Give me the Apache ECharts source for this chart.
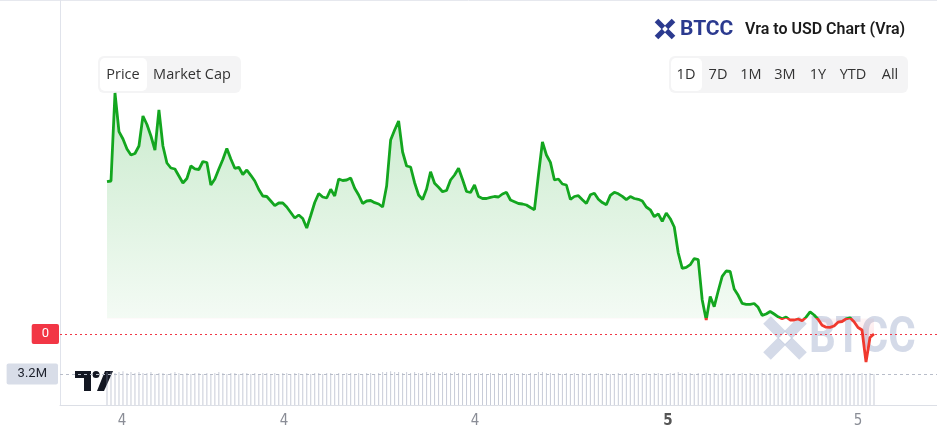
<!DOCTYPE html>
<html><head><meta charset="utf-8">
<script src="https://cdn.jsdelivr.net/npm/echarts@6/dist/echarts.min.js"></script>
<style>html,body{margin:0;padding:0;background:#fff}#c{width:937px;height:439px}</style>
</head><body><div id="c"></div>
<script>
// price in units of 1e-5 USD, one point per 5-minute step
const price = [
188.3,189,277,238.3,231,221,215,216.5,224,254,
245.5,234,220,260,224,207,202,201,194,187,
191.5,204,201.2,200.5,208.5,207.5,185,191,201,210.5,
221.5,211,201.7,202.7,195.5,200,194.7,189,180.5,174,
173.5,169,164.3,167,167,163,157.5,152,155,151.5,
142,154.5,167.5,176.5,173,172,180.7,174,191,189.5,
190,192,181.7,175,166.5,169,169.5,167.3,166,163,
184,230,240,249,218,204,203,187.3,175,170.4,
181,198.3,186.7,182.7,178.3,179.5,190,195,201.7,190.5,
178.5,177.5,185,173.5,171.5,171.5,172.7,173.5,173,176,
177.7,170,168.3,166.5,166,165,162.5,160.3,195,228,
215,207.6,190,191,186,185,170.5,173.5,174.3,170.3,
166.5,175.2,176.7,170.8,167.4,165.2,174.6,177.7,176.2,173.6,
170.3,173.4,171.5,170.7,169,163,160.2,153.3,156.2,148.6,
157,151.3,143,117,101.7,102.6,105.3,111.4,110.4,70,
50,73.5,63.3,79,93.7,99,98.5,81,74.7,66.6,
65.6,65.7,66.5,62.7,54.7,56,58.5,56,53.2,51.2,
53,50,50,51,49.3,52.8,58.1,55,50.7,44.8,
42.8,42.7,44,47.8,48.5,51.2,52.2,48.3,42.5,40,
8,32.5,36
];
// volume in millions
const volume = [
3.4,3.5,3.3,3.4,3.5,3.3,3.4,3.3,3.4,3.3,
3.3,3.4,3.2,3.3,3.3,3.2,3.3,3.4,3.3,3.2,
3.3,3.2,3.3,3.3,3.2,3.3,3.2,3.3,3.4,3.3,
3.2,3.3,3.3,3.2,3.3,3.3,3.2,3.3,3.2,3.3,
3.3,3.2,3.3,3.2,3.3,3.3,3.2,3.3,3.3,3.2,
3.3,3.2,3.3,3.3,3.2,3.3,3.3,3.2,3.3,3.2,
3.3,3.3,3.2,3.3,3.2,3.3,3.3,3.2,3.3,3.4,
3.4,3.5,3.4,3.4,3.3,3.4,3.3,3.4,3.3,3.3,
3.4,3.3,3.4,3.3,3.4,3.3,3.3,3.4,3.3,3.3,
3.2,3.3,3.2,3.3,3.3,3.2,3.3,3.2,3.3,3.2,
3.3,3.2,3.3,3.2,3.3,3.2,3.3,3.2,3.4,3.4,
3.3,3.3,3.2,3.3,3.2,3.3,3.2,3.3,3.2,3.3,
3.2,3.3,3.2,3.3,3.2,3.3,3.2,3.2,3.3,3.2,
3.3,3.2,3.3,3.2,3.2,3.3,3.2,3.3,3.3,3.2,
3.2,3.3,3.3,3.4,3.3,3.2,3.3,3.2,3.3,3.2,
3.3,3.2,3.3,3.2,3.3,3.2,3.2,3.3,3.2,3.3,
3.2,3.3,3.2,3.2,3.3,3.2,3.3,3.2,3.2,3.3,
3.2,3.2,3.3,3.2,3.2,3.3,3.2,3.2,3.3,3.2,
3.2,3.3,3.2,3.2,3.3,3.2,3.2,3.3,3.2,3.3,
3.2,3.3,3.2
];
const tickPos = [3.75, 44.3, 92.1, 140.4, 188];
const tickLabels = ['4', '4', '4', '5', '5'];
const boldTick = 3;
const BASELINE = 51.5;
const rangeButtons = ['1D', '7D', '1M', '3M', '1Y', 'YTD', 'All'];

// layout
const GL = 60, GR = 0;
const P_TOP = 80, P_H = 290, Y_MAX = 290;
const V_TOP = 360, V_H = 45, V_MAX = 4.65;
const X_MIN = -11.765, X_MAX = 207.77;
const GREEN = '#13a61f', RED = '#f0392e';

const chart = echarts.init(document.getElementById('c'));
const priceData = price.map((v, i) => [i, v]);
const volData = volume.map((v, i) => [i, v]);
const yPix = v => P_TOP + P_H * (1 - v / Y_MAX);
const pMax = Math.max(...price), pMin = Math.min(...price);
const yTop = yPix(pMax), yBot = yPix(pMin), yBase = yPix(BASELINE);
const fr = (yBase - yTop) / (yBot - yTop);
const areaGrad = new echarts.graphic.LinearGradient(0, yTop, 0, yBot, [
  {offset: 0, color: 'rgba(30,170,45,0.24)'},
  {offset: fr, color: 'rgba(30,170,45,0.05)'},
  {offset: fr, color: 'rgba(242,54,69,0.05)'},
  {offset: 1, color: 'rgba(242,54,69,0.20)'}
], true);

function xIcon(cx, cy, s, color, z) {
  const h = s / 2, d = s * 0.17;
  return {type: 'group', x: cx, y: cy, z: z, children: [
    {type: 'line', shape: {x1: -h, y1: -h, x2: h, y2: h}, style: {stroke: color, lineWidth: s * 0.3}},
    {type: 'line', shape: {x1: h, y1: -h, x2: -h, y2: h}, style: {stroke: color, lineWidth: s * 0.3}},
    {type: 'polygon', shape: {points: [[0, -d], [d, 0], [0, d], [-d, 0]]}, style: {fill: '#fff'}}
  ]};
}

const UI = '"Open Sans", sans-serif';
const graphics = [
  {type: 'line', shape: {x1: 0, y1: 0.5, x2: 937, y2: 0.5}, style: {stroke: '#e6e8ee', lineWidth: 1}},
  {type: 'line', shape: {x1: GL + 0.5, y1: 0, x2: GL + 0.5, y2: 405}, style: {stroke: '#e0e3eb', lineWidth: 1}},
  // watermark
  xIcon(785, 338, 36, 'rgba(200,207,226,0.78)', -1),
  {type: 'text', x: 809, y: 339, scaleX: 0.84, z: -1, style: {text: 'BTCC', fill: 'rgba(200,207,226,0.78)', font: 'bold 50px Roboto', textVerticalAlign: 'middle'}},
  // title
  xIcon(665, 29, 17, '#2b3a8f', 10),
  {type: 'text', x: 680, y: 30, style: {text: 'BTCC', fill: '#2b3a8f', font: 'bold 21px Roboto', textVerticalAlign: 'middle'}},
  {type: 'text', x: 745, y: 30, style: {text: 'Vra to USD Chart (Vra)', fill: '#1b1b1b', font: '600 16px Roboto', textVerticalAlign: 'middle'}},
  // price / market cap
  {type: 'rect', shape: {x: 98, y: 56, width: 143, height: 37, r: 6}, style: {fill: '#f4f4f5'}},
  {type: 'rect', shape: {x: 100, y: 58, width: 47, height: 33, r: 5}, style: {fill: '#fff'}},
  {type: 'text', x: 123, y: 75, style: {text: 'Price', fill: '#333', font: '14.5px ' + UI, textAlign: 'center', textVerticalAlign: 'middle'}},
  {type: 'text', x: 192, y: 75, style: {text: 'Market Cap', fill: '#333', font: '14.5px ' + UI, textAlign: 'center', textVerticalAlign: 'middle'}},
  // ranges
  {type: 'rect', shape: {x: 669, y: 56, width: 239, height: 37, r: 6}, style: {fill: '#f4f4f5'}},
  {type: 'rect', shape: {x: 671, y: 58, width: 31, height: 33, r: 5}, style: {fill: '#fff'}},
  // TradingView logo
  {type: 'polygon', shape: {points: [[75, 371], [91, 371], [91, 391], [84, 391], [84, 378], [75, 378]]}, style: {fill: '#131722'}},
  {type: 'circle', shape: {cx: 96, cy: 374.5, r: 3.5}, style: {fill: '#131722'}},
  {type: 'polygon', shape: {points: [[105, 371], [113, 371], [104, 391], [97, 391]]}, style: {fill: '#131722'}}
];
const rangeX = [686, 718, 751, 785, 818, 853, 890];
rangeButtons.forEach((t, i) => graphics.push({type: 'text', x: rangeX[i], y: 75,
  style: {text: t, fill: '#333', font: '14.5px ' + UI, textAlign: 'center', textVerticalAlign: 'middle'}}));

const tickFont = '"Liberation Sans Narrow", "DejaVu Sans Condensed", Roboto';
chart.setOption({
  animation: false,
  backgroundColor: '#fff',
  grid: [
    {left: GL, right: GR, top: P_TOP, height: P_H},
    {left: GL, right: GR, top: V_TOP, height: V_H}
  ],
  xAxis: [
    {type: 'value', gridIndex: 0, min: X_MIN, max: X_MAX, show: false},
    {type: 'value', gridIndex: 1, min: X_MIN, max: X_MAX,
      axisLine: {show: true, onZero: false, lineStyle: {color: '#dcdfe6'}},
      axisTick: {show: false}, splitLine: {show: false},
      axisLabel: {customValues: tickPos, margin: 9, color: '#8a8d96', fontFamily: tickFont, fontSize: 15,
        formatter: v => {
          let k = 0, best = 1e9;
          tickPos.forEach((p, i) => { if (Math.abs(p - v) < best) { best = Math.abs(p - v); k = i; } });
          return k === boldTick ? '{b|' + tickLabels[k] + '}' : tickLabels[k];
        },
        rich: {b: {fontWeight: 'bold', color: '#555', fontSize: 15, fontFamily: tickFont}}
      }}
  ],
  yAxis: [
    {type: 'value', gridIndex: 0, min: 0, max: Y_MAX, show: false},
    {type: 'value', gridIndex: 1, min: 0, max: V_MAX, show: false}
  ],
  visualMap: {type: 'piecewise', show: false, seriesIndex: 0, dimension: 1,
    pieces: [{gte: -1000, lte: BASELINE, color: RED}, {gt: BASELINE, lte: 1000, color: GREEN}]},
  series: [
    {type: 'line', xAxisIndex: 0, yAxisIndex: 0, data: priceData, showSymbol: false, symbol: 'none', z: 4,
      lineStyle: {width: 2.8}, silent: true,
      markLine: {symbol: 'none', silent: true, animation: false,
        lineStyle: {color: '#f23645', type: [2, 3], width: 1},
        label: {position: 'start', distance: 1, formatter: p => String(Math.round(p.value * 1e-5)),
          backgroundColor: '#f23645', color: '#fff', fontFamily: 'Roboto', fontSize: 13,
          padding: [3, 10, 3, 10], lineHeight: 14, borderRadius: 2},
        data: [{yAxis: price[price.length - 1]}]}},
    {type: 'line', xAxisIndex: 0, yAxisIndex: 0, data: priceData, showSymbol: false, symbol: 'none', z: 3,
      lineStyle: {width: 0}, areaStyle: {origin: BASELINE, color: areaGrad, opacity: 1}, silent: true},
    {type: 'bar', xAxisIndex: 1, yAxisIndex: 1, data: volData, barWidth: 1, silent: true, z: 2,
      itemStyle: {color: 'rgba(145,153,178,0.5)'},
      markLine: {symbol: 'none', silent: true, animation: false,
        lineStyle: {color: '#b8bdc9', type: [3, 3], width: 1},
        label: {position: 'start', distance: 2, formatter: p => p.value + 'M',
          backgroundColor: '#d8dde8', color: '#1e222d', fontFamily: 'Roboto', fontSize: 13,
          padding: [4, 11, 3, 11], lineHeight: 14, borderRadius: 2},
        data: [{yAxis: volume[volume.length - 1]}]}}
  ],
  graphic: graphics
});
</script></body></html>
